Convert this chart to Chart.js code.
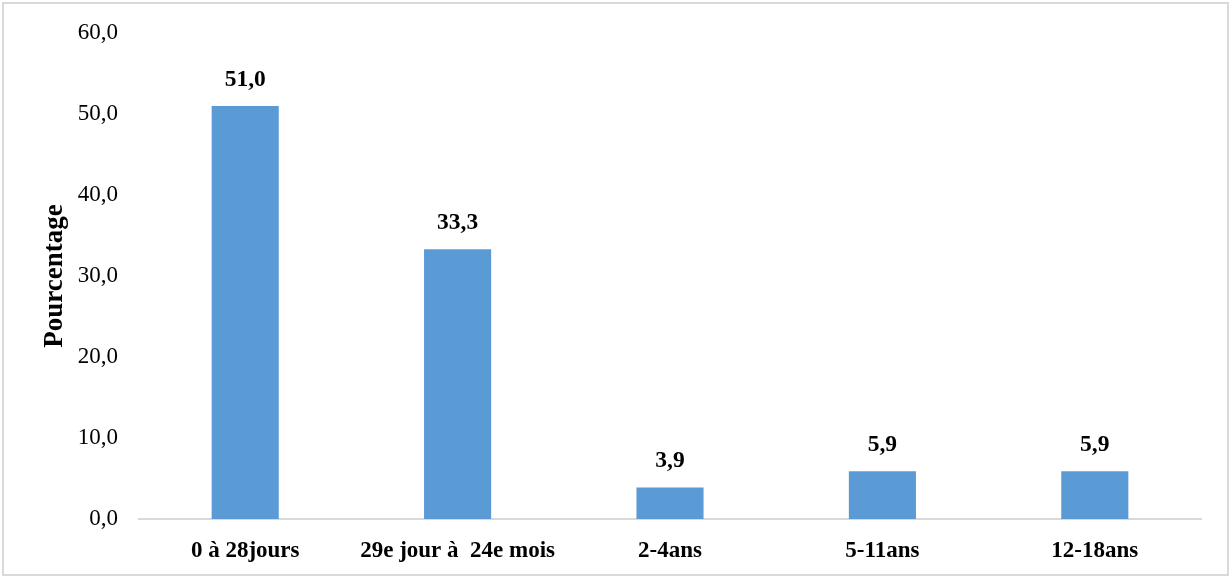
<!DOCTYPE html>
<html>
<head>
<meta charset="utf-8">
<script src="https://cdn.jsdelivr.net/npm/chart.js@4/dist/chart.umd.min.js"></script>
<style>
  html, body { margin: 0; padding: 0; background: #fff; }
  #wrap { position: relative; width: 1231px; height: 578px; }
</style>
</head>
<body>
<div id="wrap"><canvas id="ageChart" width="1231" height="578"></canvas></div>
<script>
const ageGroups = ['0 à 28jours', '29e jour à  24e mois', '2-4ans', '5-11ans', '12-18ans'];
const percentages = [51.0, 33.3, 3.9, 5.9, 5.9];
const yTicks = [0, 10, 20, 30, 40, 50, 60];

const serif = '"Liberation Serif", "Times New Roman", serif';
const fmt = v => v.toFixed(1).replace('.', ',');

// value above each bar + light frame around the figure
const barValues = {
  id: 'barValues',
  afterDatasetsDraw(chart) {
    const ctx = chart.ctx;
    const meta = chart.getDatasetMeta(0);
    ctx.save();
    ctx.font = 'bold 23.5px ' + serif;
    ctx.fillStyle = '#000';
    ctx.textAlign = 'center';
    ctx.textBaseline = 'middle';
    meta.data.forEach((bar, i) => {
      ctx.fillText(fmt(percentages[i]), bar.x, bar.y - 26);
    });
    ctx.restore();
  },
  afterDraw(chart) {
    const ctx = chart.ctx;
    ctx.save();
    ctx.strokeStyle = '#d9d9d9';
    ctx.lineWidth = 2;
    ctx.strokeRect(3, 3, 1225, 572);
    ctx.restore();
  }
};

new Chart(document.getElementById('ageChart'), {
  type: 'bar',
  data: {
    labels: ageGroups,
    datasets: [{
      data: percentages,
      backgroundColor: '#5b9bd5',
      categoryPercentage: 1,
      barPercentage: 0.316
    }]
  },
  options: {
    responsive: false,
    animation: false,
    layout: { padding: { top: 33, right: 30, left: 0, bottom: 0 } },
    plugins: { legend: { display: false }, tooltip: { enabled: false } },
    scales: {
      x: {
        grid: { display: false, drawTicks: false },
        border: { display: true, color: '#d9d9d9', width: 2 },
        ticks: {
          color: '#000',
          padding: 18,
          maxRotation: 0,
          font: { family: serif, size: 23, weight: 'bold' }
        },
        afterFit(scale) {
          scale.height = 59;
          scale.paddingLeft = 0;
          scale.paddingRight = 0;
        }
      },
      y: {
        min: 0,
        max: 60,
        afterBuildTicks(scale) { scale.ticks = yTicks.map(v => ({ value: v })); },
        grid: { display: false, drawTicks: false },
        border: { display: false },
        ticks: {
          color: '#000',
          padding: 21,
          font: { family: serif, size: 23 },
          callback: v => fmt(v)
        },
        title: {
          display: true,
          text: 'Pourcentage',
          color: '#000',
          padding: { top: 39, bottom: 0 },
          font: { family: serif, size: 27, weight: 'bold' }
        },
        afterFit(scale) {
          scale.width = 139;
          scale.paddingTop = 0;
          scale.paddingBottom = 0;
        }
      }
    }
  },
  plugins: [barValues]
});
</script>
</body>
</html>
